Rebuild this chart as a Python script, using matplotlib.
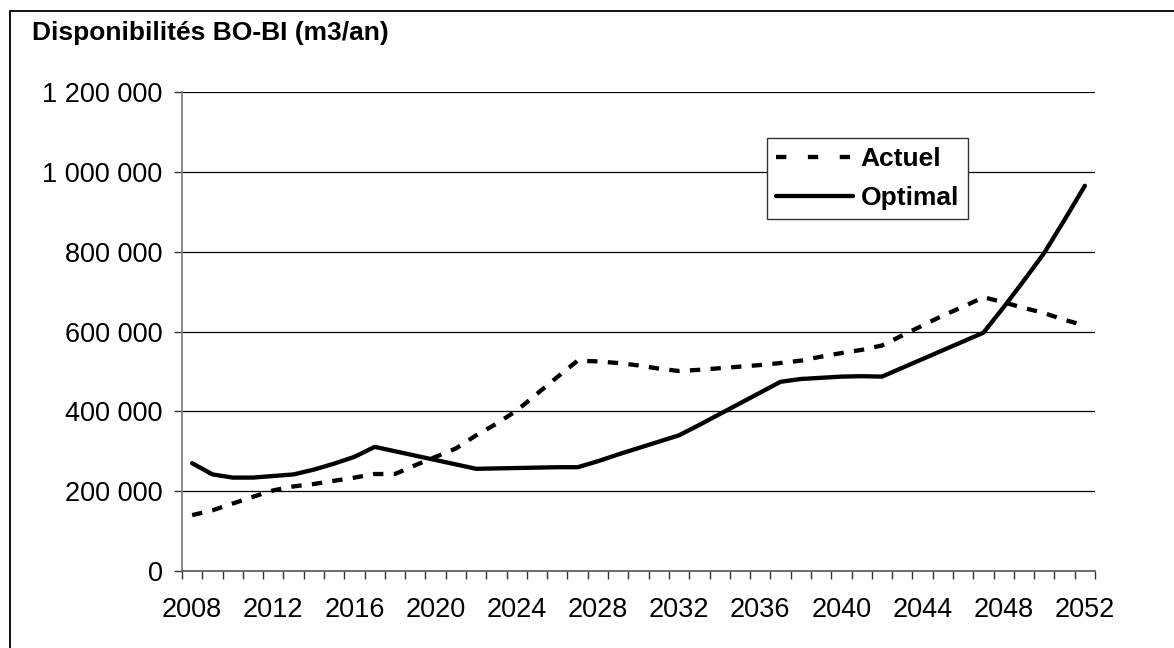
import numpy as np
import matplotlib
matplotlib.use("Agg")
import matplotlib.pyplot as plt
from matplotlib.lines import Line2D
from matplotlib.patches import Rectangle
from matplotlib.ticker import FixedLocator, FuncFormatter

plt.rcParams['font.family'] = ['Liberation Sans', 'DejaVu Sans']

# --- DATA (m3/an) ---
years = list(range(2008, 2053))

actuel = [140000, 152000, 169000, 186000, 202000, 212000, 218000, 226000, 234000, 243000,
          243000, 265000, 286000, 307000, 340000, 369000, 402000, 444000, 486000, 527000,
          525000, 521000, 515000, 507000, 501000, 504000, 508000, 512000, 516000, 521000,
          527000, 537000, 546000, 554000, 565000, 590000, 615000, 640000, 662000, 686000,
          673000, 659000, 646000, 629000, 615000]

optimal = [270000, 242000, 234000, 234000, 238000, 242000, 254000, 269000, 286000, 311000,
           300000, 289000, 278000, 267000, 256000, 257000, 258000, 259000, 260000, 260000,
           275000, 292000, 308000, 324000, 340000, 366000, 393000, 420000, 447000, 474000,
           481000, 484000, 487000, 488000, 487000, 509000, 531000, 553000, 575000, 597000,
           661000, 728000, 797000, 880000, 965000]

label_years = list(range(2008, 2053, 4))
y_ticks = list(range(0, 1200001, 200000))

# --- FIGURE ---
fig = plt.figure(figsize=(11.74, 6.48), dpi=100)
ax = fig.add_axes([182 / 1174, 77 / 648, 913 / 1174, 479 / 648])

ax.plot(years, actuel, color='black', lw=3.1, ls=(0, (2.4, 2.4)),
        dash_capstyle='butt')
ax.plot(years, optimal, color='black', lw=3.1, solid_joinstyle='round',
        solid_capstyle='round')

ax.set_xlim(2007.5, 2052.5)
ax.set_ylim(0, 1200000)

# category style axis: ticks between years, labels centred every 4 years
ax.xaxis.set_major_locator(FixedLocator(label_years))
ax.xaxis.set_minor_locator(FixedLocator(np.arange(2007.5, 2053, 1.0)))
ax.tick_params(axis='x', which='major', length=0, pad=19, labelsize=19.5)
ax.tick_params(axis='x', which='minor', length=5.5, width=1, direction='out', color='#333333')

ax.yaxis.set_major_locator(FixedLocator(y_ticks))
ax.yaxis.set_major_formatter(FuncFormatter(lambda v, p: f"{v:,.0f}".replace(",", " ")))
ax.tick_params(axis='y', length=6, width=1, direction='out', pad=8, labelsize=19.5, color='#333333')

ax.grid(axis='y', color='black', lw=0.9)
ax.set_axisbelow(True)
for side in ['top', 'right']:
    ax.spines[side].set_visible(False)
ax.spines['left'].set_color('#777777')
ax.spines['bottom'].set_color('#555555')
ax.spines['left'].set_linewidth(1.2)
ax.spines['bottom'].set_linewidth(1.2)

# legend keys with their own dash spacing
handles = [Line2D([], [], color='black', lw=3.1, ls=(0, (2.4, 5.0)), dash_capstyle='butt'),
           Line2D([], [], color='black', lw=3.1, solid_capstyle='round')]
leg = ax.legend(handles, ['Actuel', 'Optimal'], loc='upper left',
                bbox_to_anchor=(767 / 1174, 1 - 138 / 648),
                bbox_transform=fig.transFigure, frameon=True, fancybox=False,
                prop={'weight': 'bold', 'size': 19}, handlelength=2.9,
                handletextpad=0.3, borderpad=0.35, labelspacing=0.55,
                borderaxespad=0)
leg.get_frame().set_edgecolor('#333333')
leg.get_frame().set_linewidth(1.0)
leg.get_frame().set_alpha(1)

fig.text(32 / 1174, 1 - 40 / 648, "Disponibilités BO-BI (m3/an)",
         fontsize=19, fontweight='bold', ha='left', va='baseline')

# outer frame
fig.patches.append(Rectangle((10 / 1174, -0.1), 2, 1.1 - 11 / 648,
                             transform=fig.transFigure, fill=False,
                             edgecolor='black', lw=1.3))

fig.savefig("out.png", dpi=100)
